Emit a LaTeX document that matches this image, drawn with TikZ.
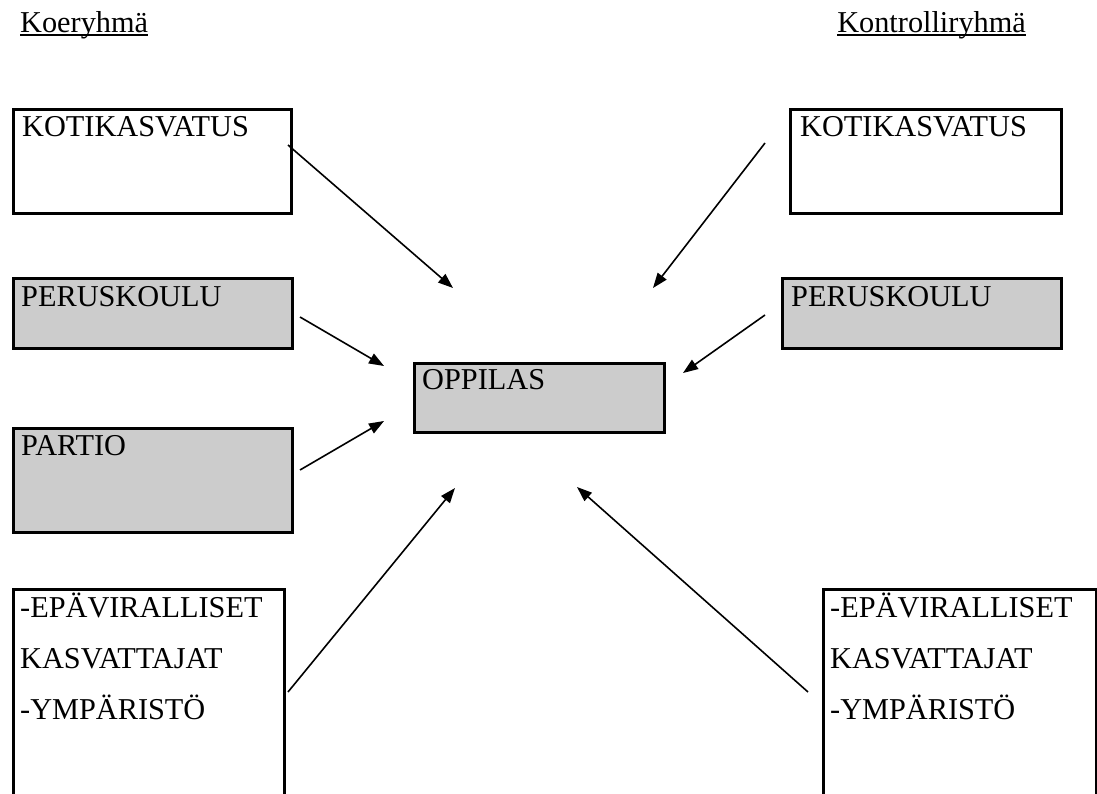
\documentclass[tikz,border=0pt]{standalone}
\usepackage{fontspec}
\setmainfont{Liberation Serif}
\usepackage{tikz}
\usetikzlibrary{arrows.meta}
\definecolor{boxgray}{HTML}{CCCCCC}

\begin{document}
\begin{tikzpicture}[x=1pt,y=-1pt,>={Triangle[length=15pt,width=11pt]},font=\fontsize{30.3}{51}\selectfont]
	\tikzstyle{factor}=[rectangle, draw=black, line width=2.6pt, anchor=north west, inner sep=0pt]
	\tikzstyle{shaded}=[factor, fill=boxgray]
	\tikzstyle{caption}=[anchor=base west, inner sep=0pt, align=left]
	\tikzstyle{influence}=[->, line width=1.6pt]

	\useasboundingbox (0,0) rectangle (1097,794);
	\clip (0,0) rectangle (1097,794);

	% group titles
	\node [caption] (koe) at (20,33) {Koeryhmä};
	\node [caption, anchor=base east] (kontr) at (1026,33) {Kontrolliryhmä};
	\draw [line width=1.6pt] ([yshift=-2pt]koe.base west) -- ([yshift=-2pt]koe.base east);
	\draw [line width=1.6pt] ([yshift=-2pt]kontr.base west) -- ([yshift=-2pt]kontr.base east);

	% Koeryhmä
	\node [factor, minimum width=278pt, minimum height=104pt] (kotiK) at (12,108) {};
	\node [caption] (kotiKt) at (22,137) {KOTIKASVATUS};
	\node [shaded, minimum width=279pt, minimum height=70pt] (perusK) at (12,277) {};
	\node [caption] (perusKt) at (21,306) {PERUSKOULU};
	\node [shaded, minimum width=279pt, minimum height=104pt] (partioK) at (12,427) {};
	\node [caption] (partioKt) at (21,455) {PARTIO};
	\node [factor, minimum width=271pt, minimum height=230pt] (muutK) at (12,588) {};
	% base of a multi-line node = last line
	\node [caption] (muutKt) at (20,719) {-EPÄVIRALLISET\\KASVATTAJAT\\-YMPÄRISTÖ};

	% oppilas
	\node [shaded, minimum width=250pt, minimum height=69pt] (oppilas) at (413,362) {};
	\node [caption] (oppilast) at (422,389) {OPPILAS};

	% Kontrolliryhmä
	\node [factor, minimum width=271pt, minimum height=104pt] (kotiC) at (789,108) {};
	\node [caption] (kotiCt) at (800,137) {KOTIKASVATUS};
	\node [shaded, minimum width=279pt, minimum height=70pt] (perusC) at (781,277) {};
	\node [caption] (perusCt) at (791,306) {PERUSKOULU};
	\node [factor, minimum width=273pt, minimum height=230pt] (muutC) at (822,588) {};
	\node [caption] (muutCt) at (830,719) {-EPÄVIRALLISET\\KASVATTAJAT\\-YMPÄRISTÖ};

	% arrow ends
	\coordinate (kotiKs) at (288,145);  \coordinate (kotiKe) at (453,288);
	\coordinate (perusKs) at (300,317); \coordinate (perusKe) at (384,366);
	\coordinate (partioKs) at (300,470); \coordinate (partioKe) at (384,421);
	\coordinate (muutKs) at (288,692);  \coordinate (muutKe) at (455,488);
	\coordinate (kotiCs) at (765,143);  \coordinate (kotiCe) at (653,288);
	\coordinate (perusCs) at (765,315); \coordinate (perusCe) at (683,373);
	\coordinate (muutCs) at (808,692);  \coordinate (muutCe) at (577,487);

	\foreach \s in {kotiK,perusK,partioK,muutK,kotiC,perusC,muutC}
		\draw [influence] (\s s) -- (\s e);
\end{tikzpicture}
\end{document}
